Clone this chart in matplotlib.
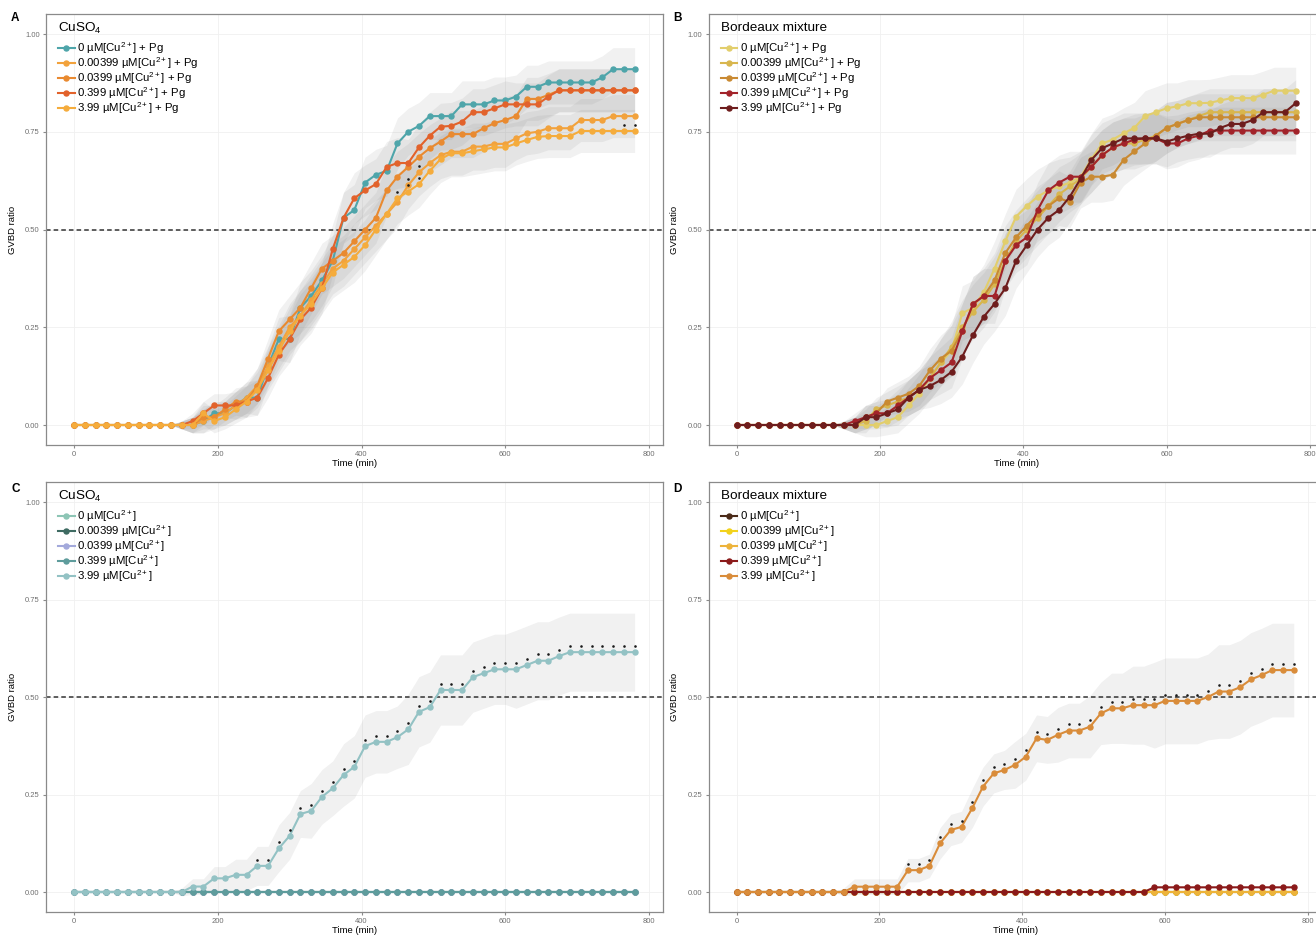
import matplotlib
matplotlib.use('Agg')
import matplotlib.pyplot as plt
from matplotlib.lines import Line2D

plt.rcParams['font.family'] = ['Liberation Sans', 'DejaVu Sans']
plt.rcParams['mathtext.fontset'] = 'custom'
plt.rcParams['mathtext.rm'] = 'Liberation Sans'
plt.rcParams['mathtext.it'] = 'Liberation Sans:italic'
plt.rcParams['mathtext.bf'] = 'Liberation Sans:bold'

# ---------------- data ----------------
time = list(range(0, 781, 15))          # 53 time points (min)
Z = [0.0] * 11                          # t = 0 .. 150

conc = ["0", "0.00399", "0.0399", "0.399", "3.99"]

# Panel A: CuSO4 + Pg
A_0 = Z + [0.0, 0.01, 0.03, 0.03, 0.05, 0.07, 0.07, 0.15, 0.22, 0.22,
           0.30, 0.33, 0.37, 0.42, 0.53, 0.55, 0.62, 0.64, 0.65, 0.72,
           0.75, 0.765, 0.79, 0.79, 0.79, 0.82, 0.82, 0.82, 0.83, 0.83,
           0.84, 0.865, 0.865, 0.876, 0.876, 0.876, 0.876, 0.876, 0.889, 0.91,
           0.91, 0.91]
A_1 = Z + [0.0, 0.01, 0.02, 0.03, 0.05, 0.07, 0.10, 0.15, 0.20, 0.25,
           0.28, 0.32, 0.36, 0.40, 0.42, 0.45, 0.48, 0.51, 0.54, 0.57,
           0.613, 0.646, 0.67, 0.69, 0.699, 0.699, 0.712, 0.712, 0.719, 0.719,
           0.733, 0.746, 0.75, 0.759, 0.759, 0.759, 0.78, 0.78, 0.78, 0.79,
           0.79, 0.79]
A_2 = Z + [0.0, 0.02, 0.02, 0.04, 0.06, 0.06, 0.10, 0.17, 0.24, 0.27,
           0.30, 0.35, 0.40, 0.42, 0.44, 0.47, 0.50, 0.53, 0.60, 0.635,
           0.66, 0.686, 0.708, 0.725, 0.744, 0.744, 0.744, 0.759, 0.772, 0.78,
           0.79, 0.834, 0.834, 0.844, 0.856, 0.856, 0.856, 0.856, 0.856, 0.856,
           0.856, 0.856]
A_3 = Z + [0.01, 0.03, 0.05, 0.05, 0.05, 0.06, 0.07, 0.12, 0.18, 0.22,
           0.27, 0.30, 0.35, 0.45, 0.53, 0.58, 0.60, 0.616, 0.66, 0.67,
           0.67, 0.71, 0.74, 0.763, 0.765, 0.776, 0.80, 0.80, 0.81, 0.82,
           0.82, 0.82, 0.82, 0.84, 0.856, 0.856, 0.856, 0.856, 0.856, 0.856,
           0.856, 0.856]
A_4 = Z + [0.0, 0.03, 0.01, 0.02, 0.04, 0.06, 0.09, 0.14, 0.19, 0.24,
           0.28, 0.31, 0.35, 0.39, 0.41, 0.43, 0.46, 0.50, 0.54, 0.58,
           0.597, 0.616, 0.65, 0.68, 0.695, 0.695, 0.70, 0.705, 0.71, 0.71,
           0.72, 0.729, 0.737, 0.739, 0.739, 0.739, 0.752, 0.752, 0.752, 0.752,
           0.752, 0.752]

# Panel B: Bordeaux mixture + Pg
B_0 = Z + [0.0, 0.0, 0.0, 0.01, 0.02, 0.05, 0.08, 0.12, 0.16, 0.19,
           0.286, 0.30, 0.34, 0.40, 0.47, 0.533, 0.56, 0.584, 0.60, 0.61,
           0.62, 0.635, 0.68, 0.72, 0.73, 0.746, 0.76, 0.79, 0.80, 0.81,
           0.815, 0.823, 0.823, 0.824, 0.83, 0.836, 0.836, 0.836, 0.845, 0.855,
           0.855, 0.855]
B_1 = Z + [0.0, 0.01, 0.04, 0.05, 0.06, 0.07, 0.09, 0.12, 0.16, 0.20,
           0.25, 0.29, 0.32, 0.36, 0.42, 0.47, 0.50, 0.53, 0.56, 0.59,
           0.61, 0.63, 0.66, 0.69, 0.71, 0.72, 0.72, 0.73, 0.74, 0.76,
           0.77, 0.78, 0.79, 0.80, 0.80, 0.80, 0.80, 0.80, 0.80, 0.80,
           0.80, 0.80]
B_2 = Z + [0.0, 0.02, 0.03, 0.06, 0.07, 0.08, 0.10, 0.14, 0.17, 0.19,
           0.24, 0.31, 0.33, 0.37, 0.44, 0.48, 0.51, 0.54, 0.56, 0.58,
           0.57, 0.62, 0.635, 0.635, 0.64, 0.678, 0.70, 0.72, 0.74, 0.76,
           0.77, 0.78, 0.787, 0.787, 0.787, 0.787, 0.787, 0.787, 0.787, 0.787,
           0.787, 0.787]
B_3 = Z + [0.01, 0.02, 0.03, 0.03, 0.05, 0.07, 0.09, 0.12, 0.14, 0.16,
           0.24, 0.31, 0.33, 0.33, 0.42, 0.46, 0.48, 0.55, 0.60, 0.62,
           0.635, 0.635, 0.66, 0.69, 0.71, 0.72, 0.73, 0.733, 0.733, 0.72,
           0.72, 0.733, 0.74, 0.753, 0.753, 0.753, 0.753, 0.753, 0.753, 0.753,
           0.753, 0.753]
B_4 = Z + [0.0, 0.02, 0.02, 0.03, 0.04, 0.07, 0.09, 0.10, 0.115, 0.136,
           0.175, 0.23, 0.277, 0.31, 0.35, 0.42, 0.46, 0.50, 0.53, 0.55,
           0.584, 0.63, 0.678, 0.708, 0.72, 0.733, 0.733, 0.733, 0.733, 0.725,
           0.733, 0.74, 0.745, 0.745, 0.76, 0.77, 0.77, 0.78, 0.80, 0.80,
           0.80, 0.823]

# Panel C: CuSO4 alone
C_0 = [0.0] * 53
C_1 = [0.0] * 53
C_2 = [0.0] * 53
C_3 = [0.0] * 53
C_4 = Z + [0.014, 0.014, 0.035, 0.035, 0.044, 0.044, 0.067, 0.067, 0.112, 0.144,
           0.20, 0.208, 0.244, 0.266, 0.30, 0.321, 0.374, 0.385, 0.385, 0.397,
           0.417, 0.462, 0.474, 0.518, 0.518, 0.518, 0.551, 0.561, 0.571, 0.571,
           0.571, 0.582, 0.593, 0.593, 0.605, 0.615, 0.615, 0.615, 0.615, 0.615,
           0.615, 0.615]

# Panel D: Bordeaux mixture alone
D_0 = [0.0] * 53
D_1 = [0.0] * 53
D_2 = [0.0] * 53
D_3 = [0.0] * 39 + [0.012] * 14
D_4 = Z + [0.0136, 0.0136, 0.0136, 0.0136, 0.0136, 0.056, 0.056, 0.067, 0.125, 0.159,
           0.167, 0.215, 0.27, 0.304, 0.313, 0.326, 0.347, 0.394, 0.39, 0.403,
           0.414, 0.414, 0.424, 0.458, 0.471, 0.471, 0.479, 0.479, 0.479, 0.49,
           0.49, 0.49, 0.49, 0.50, 0.514, 0.514, 0.525, 0.545, 0.556, 0.569,
           0.569, 0.569]

# ribbon half widths
band_A = [0.0] * 10 + [0.01] + [0.02, 0.03, 0.03, 0.03, 0.035, 0.04, 0.045, 0.05, 0.055, 0.06] \
         + [0.065] * 10 + [0.06] * 10 + [0.055] * 12
band_B = [0.0] * 10 + [0.01] + [0.02, 0.03, 0.03, 0.035, 0.04, 0.045, 0.05, 0.055, 0.06, 0.065] \
         + [0.07] * 10 + [0.065] * 10 + [0.06] * 12
band_C = [0.0] * 10 + [0.01] + [0.02, 0.02, 0.03, 0.03, 0.04, 0.04, 0.05, 0.05, 0.06, 0.06] \
         + [0.06, 0.07, 0.07, 0.07, 0.08, 0.08, 0.08, 0.08, 0.08, 0.08] + [0.09] * 10 + [0.10] * 12
band_D = [0.0] * 10 + [0.01] + [0.02, 0.02, 0.02, 0.02, 0.02, 0.03, 0.03, 0.03, 0.04, 0.04] \
         + [0.04, 0.05, 0.05, 0.05, 0.05, 0.06, 0.06, 0.06, 0.06, 0.07] \
         + [0.07, 0.07, 0.08, 0.08, 0.09, 0.09, 0.10, 0.10, 0.11, 0.11] + [0.11] * 4 + [0.12] * 8

# significance marks (times flagged per series index)
sig_A = {4: [450, 465, 480, 765, 780], 1: [465, 480]}
sig_B = {}
sig_C = {4: [t for t in time if t >= 255]}
sig_D = {4: [t for t in time if t >= 240]}

col_A = ["#4EA5AA", "#F2A23C", "#E98A30", "#E2622B", "#F5AC3C"]
col_B = ["#E2CE6C", "#D8B64E", "#C98A32", "#A2232A", "#6E1D1D"]
col_C = ["#8DC5B5", "#3E6B62", "#A3A9DB", "#5E9C9C", "#93C2C4"]
col_D = ["#4A2A18", "#F2D21C", "#EDB33A", "#8B1A1A", "#D98C3A"]

W, H = 1316, 938
fig = plt.figure(figsize=(W / 100, H / 100), dpi=100)
fig.patch.set_facecolor('white')


def add_ax(x0, x800, y1, y0):
    ppm = (x800 - x0) / 800.0
    left = x0 - 39 * ppm
    right = x0 + 819 * ppm
    ppu = y0 - y1
    top = y1 - 0.05 * ppu
    bottom = y0 + 0.05 * ppu
    ax = fig.add_axes([left / W, 1 - bottom / H, (right - left) / W, (bottom - top) / H])
    ax.set_xlim(-39, 819)
    ax.set_ylim(-0.05, 1.05)
    return ax


def draw(ax, series, colors, labels, title, bands, sig, letter, letter_xy):
    ax.set_facecolor('white')
    for s in ax.spines.values():
        s.set_color('#8a8a8a')
        s.set_linewidth(0.9)
    ax.set_xticks([0, 200, 400, 600, 800])
    ax.set_yticks([0, 0.25, 0.5, 0.75, 1.0])
    ax.set_yticklabels(["0.00", "0.25", "0.50", "0.75", "1.00"])
    ax.tick_params(axis='both', labelsize=5.5, colors='#8a8a8a', labelcolor='#6f6f6f',
                   length=2.5, width=0.8, pad=2)
    ax.grid(True, color='#f0f0f0', linewidth=0.6, zorder=0)
    ax.set_axisbelow(True)
    for i, ys in enumerate(series):
        b = bands[i]
        if b is not None:
            lo = [y - w for y, w in zip(ys, b)]
            hi = [y + w for y, w in zip(ys, b)]
            ax.fill_between(time, lo, hi, color='#8c8c8c', alpha=0.12, lw=0, zorder=1)
    ax.axhline(0.5, color='#333333', lw=1.1, ls=(0, (3, 2)), zorder=2)
    for i, ys in enumerate(series):
        ax.plot(time, ys, color=colors[i], lw=1.5, marker='o', ms=3.6,
                mec=colors[i], zorder=3 + i * 0.01)
    for i, ts in sig.items():
        ys = series[i]
        sy = [ys[time.index(t)] + 0.016 for t in ts]
        ax.scatter(ts, sy, marker='o', s=3.5, color='#1a1a1a', lw=0, zorder=5)
    handles = [Line2D([], [], color=c, lw=1.5, marker='o', ms=3.6) for c in colors]
    ax.text(0.0195, 0.968, title, transform=ax.transAxes, fontsize=9.7,
            ha='left', va='center', zorder=6)
    ax.legend(handles, labels, loc='upper left', frameon=False,
              fontsize=8.2, handlelength=1.45, handletextpad=0.25,
              labelspacing=-0.06, borderaxespad=0.0, borderpad=0.0,
              bbox_to_anchor=(0.0195, 0.9407))
    ax.set_xlabel("Time (min)", fontsize=6.8, labelpad=1)
    ax.set_ylabel("GVBD ratio", fontsize=6.8, labelpad=6)
    fig.text(letter_xy[0] / W, 1 - letter_xy[1] / H, letter, fontsize=8.5,
             fontweight='bold', ha='left', va='center')


lab_pg = [c + " µM[Cu$^{2+}$] + Pg" for c in conc]
lab = [c + " µM[Cu$^{2+}$]" for c in conc]

axA = add_ax(74, 649, 34, 425)
draw(axA, [A_0, A_1, A_2, A_3, A_4], col_A, lab_pg, "CuSO$_4$",
     [band_A] * 5, sig_A, "A", (11, 18))

axB = add_ax(736.5, 1310, 34, 425)
draw(axB, [B_0, B_1, B_2, B_3, B_4], col_B, lab_pg, "Bordeaux mixture",
     [band_B] * 5, sig_B, "B", (673, 18))

axC = add_ax(74, 649, 502, 892)
draw(axC, [C_0, C_1, C_2, C_3, C_4], col_C, lab, "CuSO$_4$",
     [None, None, None, None, band_C], sig_C, "C", (11, 489))

axD = add_ax(736.5, 1308, 502, 892)
draw(axD, [D_0, D_1, D_2, D_3, D_4], col_D, lab, "Bordeaux mixture",
     [None, None, None, None, band_D], sig_D, "D", (673, 489))

fig.savefig("out.png", dpi=100, facecolor='white')
